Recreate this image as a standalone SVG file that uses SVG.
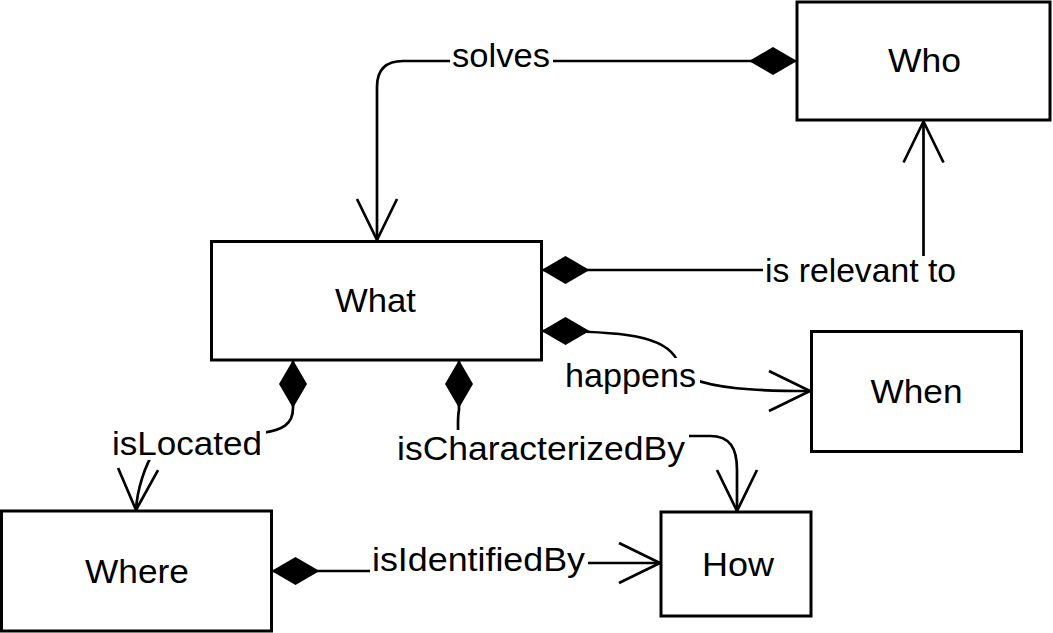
<svg xmlns="http://www.w3.org/2000/svg" width="1053" height="633" viewBox="0 0 1053 633">
<style>
.box{fill:#fff;stroke:#000;stroke-width:3}
.edge{fill:none;stroke:#000;stroke-width:2.7}
.t{font-family:"Liberation Sans",Arial,sans-serif;font-size:34px;fill:#000;text-anchor:middle}
.lb{fill:#fff;stroke:none}
</style>
<defs>
<marker id="dia" markerUnits="userSpaceOnUse" orient="auto" refX="0" refY="0" markerWidth="50" markerHeight="30" overflow="visible">
<path d="M0,0 L24,-14 L48,0 L24,14 Z" fill="#000" stroke="none"/>
</marker>
<marker id="arr" markerUnits="userSpaceOnUse" orient="auto" refX="0" refY="0" markerWidth="45" markerHeight="45" overflow="visible">
<path d="M-41,-20 L0,0 L-41,20" fill="none" stroke="#000" stroke-width="2.7"/>
</marker>
</defs>
<rect width="1053" height="633" fill="#fff"/>
<g id="connectors">
<path class="edge" d="M797,61 L403,61 Q377,61 377,87 L377,240" marker-start="url(#dia)" marker-end="url(#arr)"/>
<path class="edge" d="M541.5,270 L923.5,270 L923.5,121.5" marker-start="url(#dia)" marker-end="url(#arr)"/>
<path class="edge" d="M541.5,331 C625,331 665,336 677,360 L690,378 C715,388 750,391 810,391" marker-start="url(#dia)" marker-end="url(#arr)"/>
<path class="edge" d="M293,360 L293,408 C293,424 283,430 262,433 L155,450 C145,465 137,490 136,510" marker-start="url(#dia)" marker-end="url(#arr)"/>
<path class="edge" d="M459,360 L459,410 Q457,420 459,448 L686,448 L686,436 L710,436 C730,436 737,448 737,470 L737,511" marker-start="url(#dia)" marker-end="url(#arr)"/>
<path class="edge" d="M271.5,571 L480,571 L480,563 L660,563" marker-start="url(#dia)" marker-end="url(#arr)"/>
<rect class="lb" x="450" y="44" width="103" height="30"/>
<text class="t" x="501" y="67" textLength="98" lengthAdjust="spacingAndGlyphs">solves</text>
<rect class="lb" x="763" y="256" width="196" height="32"/>
<text class="t" x="860.5" y="282" textLength="191" lengthAdjust="spacingAndGlyphs">is relevant to</text>
<rect class="lb" x="562" y="358" width="138" height="38"/>
<text class="t" x="630.5" y="387" textLength="131" lengthAdjust="spacingAndGlyphs">happens</text>
<rect class="lb" x="108" y="428" width="158" height="32"/>
<text class="t" x="187" y="455" textLength="150" lengthAdjust="spacingAndGlyphs">isLocated</text>
<rect class="lb" x="394" y="430" width="295" height="38"/>
<text class="t" x="541" y="460" textLength="288" lengthAdjust="spacingAndGlyphs">isCharacterizedBy</text>
<rect class="lb" x="370" y="544" width="218" height="35"/>
<text class="t" x="478.5" y="571" textLength="213" lengthAdjust="spacingAndGlyphs">isIdentifiedBy</text>
</g>
<g id="who"><rect class="box" x="797" y="2" width="253" height="118"/><text class="t" x="924.5" y="72" textLength="73" lengthAdjust="spacingAndGlyphs">Who</text></g>
<g id="what"><rect class="box" x="211.5" y="241.5" width="330" height="118.5"/><text class="t" x="375.5" y="312" textLength="81" lengthAdjust="spacingAndGlyphs">What</text></g>
<g id="when"><rect class="box" x="811.5" y="331.5" width="210" height="120"/><text class="t" x="916.5" y="403" textLength="92" lengthAdjust="spacingAndGlyphs">When</text></g>
<g id="where"><rect class="box" x="1.5" y="511" width="270" height="120"/><text class="t" x="137" y="583" textLength="104" lengthAdjust="spacingAndGlyphs">Where</text></g>
<g id="how"><rect class="box" x="661" y="512" width="150" height="104"/><text class="t" x="738" y="576" textLength="72" lengthAdjust="spacingAndGlyphs">How</text></g>
</svg>
